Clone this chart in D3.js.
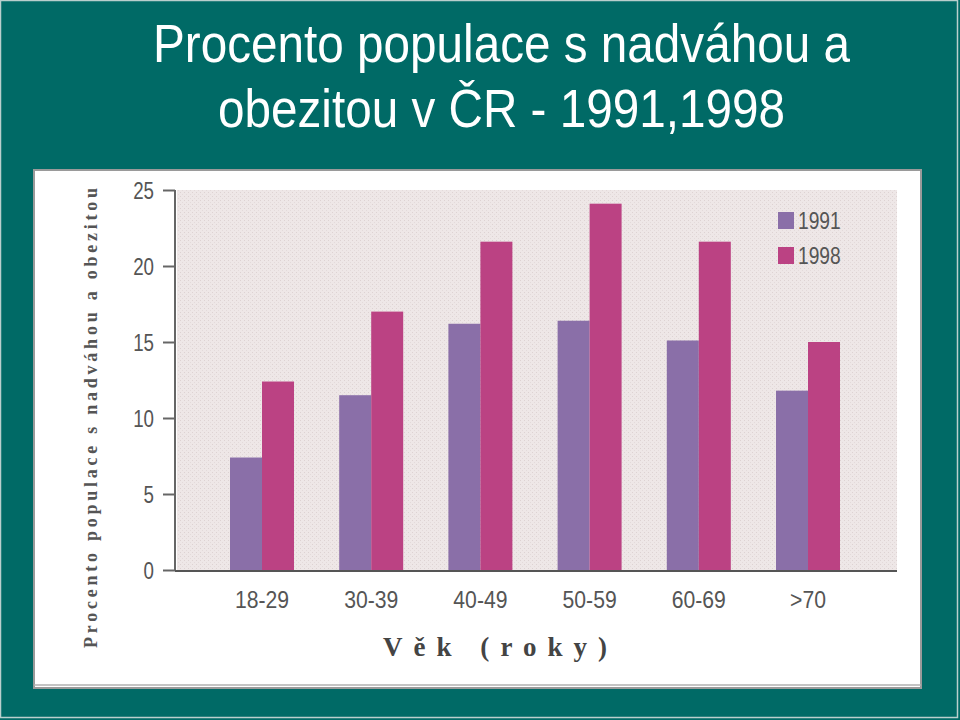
<!DOCTYPE html>
<html><head><meta charset="utf-8">
<script src="https://cdn.jsdelivr.net/npm/d3@7"></script>
<style>html,body{margin:0;padding:0;background:#006a66;}svg{display:block;}</style>
</head><body>
<script>
const categories = ["18-29","30-39","40-49","50-59","60-69",">70"];
const series = ["1991","1998"];
const values1991 = [7.4, 11.5, 16.2, 16.4, 15.1, 11.8];
const values1998 = [12.4, 17.0, 21.6, 24.1, 21.6, 15.0];
const yTicks = [0,5,10,15,20,25];
const colors = ["#8a6fa8","#bb4283"];
const titleLines = ["Procento populace s nadváhou a","obezitou v ČR - 1991,1998"];
const yTitle = "Procento populace s nadváhou a obezitou";
const xTitle = "Věk (roky)";

const W=960,H=720;
const narrow="Liberation Sans, Arial, sans-serif";
function squeeze(sel,f){sel.each(function(){const n=this.getComputedTextLength();d3.select(this).attr("textLength",n*f).attr("lengthAdjust","spacingAndGlyphs");});}

const svg=d3.select("body").append("svg").attr("width",W).attr("height",H);
svg.append("rect").attr("width",W).attr("height",H).attr("fill","#006a66");
svg.append("rect").attr("x",0.5).attr("y",0.5).attr("width",W-3).attr("height",H-3).attr("fill","none").attr("stroke","#b9cfcd").attr("stroke-width",1.5);

// title
const tl=[{x:153,y:62,len:697},{x:218,y:127,len:567}];
titleLines.forEach((t,i)=>{
  svg.append("text").attr("x",tl[i].x).attr("y",tl[i].y).attr("textLength",tl[i].len).attr("lengthAdjust","spacingAndGlyphs")
    .attr("font-family","Liberation Sans, Arial, sans-serif").attr("font-size",53).attr("fill","#fff").text(t);
});

// white panel
svg.append("rect").attr("x",34).attr("y",170).attr("width",887).attr("height",518).attr("fill","#fff").attr("stroke","#9a9a9a").attr("stroke-width",2);
svg.append("line").attr("x1",34).attr("x2",921).attr("y1",685).attr("y2",685).attr("stroke","#b0b0b0").attr("stroke-width",1.5);

// pattern
const defs=svg.append("defs");
const pat=defs.append("pattern").attr("id","dots").attr("width",4).attr("height",4).attr("patternUnits","userSpaceOnUse");
pat.append("rect").attr("width",4).attr("height",4).attr("fill","#eee7e7");
pat.append("rect").attr("x",0).attr("y",0).attr("width",1).attr("height",1).attr("fill","#ddd2d2");
pat.append("rect").attr("x",2).attr("y",2).attr("width",1).attr("height",1).attr("fill","#e3dada");

const y=d3.scaleLinear().domain([0,25]).range([570,190]);
const x=d3.scaleBand().domain(categories).range([207.4,862.6]).paddingInner(0.414).paddingOuter(0.207);
const xs=d3.scaleBand().domain(series).range([0,x.bandwidth()]);

svg.append("rect").attr("x",177).attr("y",190).attr("width",720).attr("height",380).attr("fill","url(#dots)");

// bars
const data=categories.map((c,i)=>({c,vals:[values1991[i],values1998[i]]}));
const g=svg.append("g");
g.selectAll("g").data(data).join("g").attr("transform",d=>`translate(${x(d.c)},0)`)
 .selectAll("rect").data(d=>d.vals.map((v,j)=>({s:series[j],v,j}))).join("rect")
 .attr("x",d=>xs(d.s)).attr("width",xs.bandwidth()).attr("y",d=>y(d.v)).attr("height",d=>y(0)-y(d.v)).attr("fill",d=>colors[d.j]);

// y axis
const ya=svg.append("g").attr("transform","translate(175,0)").call(d3.axisLeft(y).tickValues(yTicks).tickSize(12).tickPadding(9));
ya.select(".domain").attr("stroke","#666").attr("stroke-width",2).attr("d","M0,190V571");
ya.selectAll(".tick line").attr("stroke","#666").attr("stroke-width",2);
ya.selectAll(".tick text").attr("font-family",narrow).attr("font-size",24).attr("fill","#555").attr("dy","0.34em").call(squeeze,0.78);

// x axis
const xa=svg.append("g").attr("transform","translate(0,571)").call(d3.axisBottom(x).tickSize(0).tickPadding(21));
xa.select(".domain").attr("stroke","#555").attr("stroke-width",2).attr("d","M175,0H897");
xa.selectAll(".tick text").attr("font-family",narrow).attr("font-size",23).attr("fill","#555").call(squeeze,0.92);

// legend
const lg=svg.append("g");
series.forEach((s,i)=>{
  lg.append("rect").attr("x",778).attr("y",212+i*35).attr("width",16).attr("height",17).attr("fill",colors[i]);
  lg.append("text").attr("x",798).attr("y",229+i*35).attr("font-family",narrow).attr("font-size",24).attr("fill","#555").text(s).call(squeeze,0.8);
});

// axis titles
svg.append("text").attr("transform","translate(97,648) rotate(-90)").attr("x",0).attr("y",0).attr("textLength",460).attr("lengthAdjust","spacing")
  .attr("font-family","Liberation Serif, Times New Roman, serif").attr("font-weight","bold").attr("font-size",18).attr("fill","#555").text(yTitle);
svg.append("text").attr("x",383).attr("y",656).attr("textLength",224).attr("lengthAdjust","spacing")
  .attr("font-family","Liberation Serif, Times New Roman, serif").attr("font-weight","bold").attr("font-size",27).attr("fill","#444").text(xTitle);
</script>
</body></html>
